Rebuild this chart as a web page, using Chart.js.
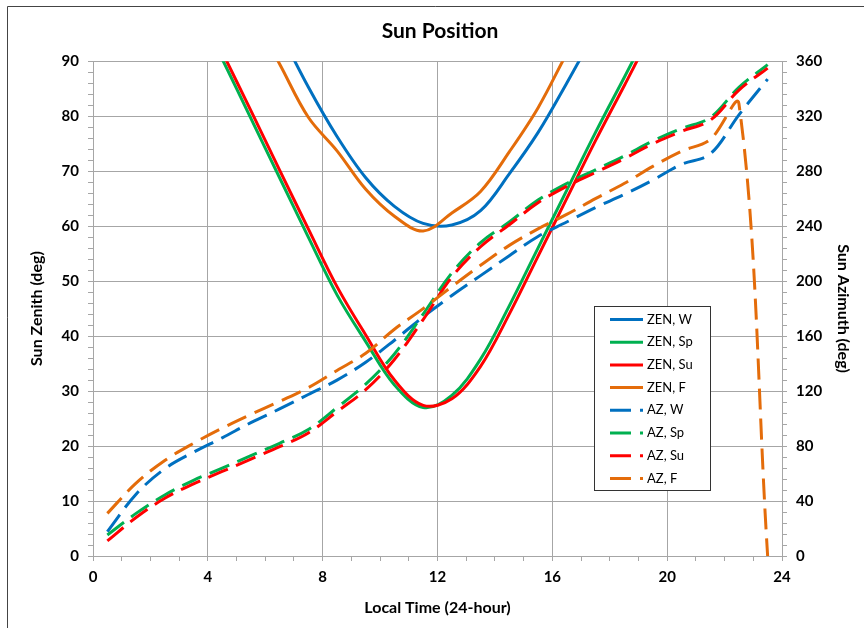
<!DOCTYPE html>
<html>
<head>
<meta charset="utf-8">
<script src="https://cdn.jsdelivr.net/npm/chart.js@4.4.1/dist/chart.umd.min.js"></script>
<style>
  html, body { margin: 0; padding: 0; background: #fff; }
</style>
</head>
<body>
<canvas id="sun-chart" width="864" height="628"></canvas>
<script>
// local time of each sample (hours)
const hours = [0.5, 1.5, 2.5, 3.5, 4.5, 5.5, 6.5, 7.5, 8.5, 9.5, 10.5, 11.5,
               12.5, 13.5, 14.5, 15.5, 16.5, 17.5, 18.5, 19.5, 20.5, 21.5, 22.5, 23.5];

// zenith angle (deg), values above 90 are below the horizon and get clipped
const zenW  = [140, 138, 133, 125, 116, 106, 95.5, 85.3, 76.3, 68.8, 63.6, 60.5,
               60.2, 62.8, 69.5, 77, 86, 95.5, 105.5, 115.5, 125, 132, 137, 140];
const zenSp = [129.5, 121, 111.5, 101, 90.4, 79.6, 68.8, 58, 47.5, 39, 31.1, 27,
               29.2, 35.8, 45.5, 56, 66.5, 77, 87, 97, 106, 114, 121, 126];
const zenSu = [131, 122.5, 113, 102.5, 91.7, 81, 70.2, 59.5, 49, 40.2, 32, 27.4,
               28.6, 34.5, 44, 54.5, 65, 75.5, 85.5, 95.5, 104.5, 112.5, 119.5, 125];
const zenF  = [128, 126, 122, 116, 108, 99, 89.5, 79.8, 73.7, 66.7, 61.8, 59.1,
               62.4, 66.3, 73.5, 81.5, 91.4, 101, 110, 118, 124, 128, 130, 130];

// azimuth (deg)
const azW  = [17.7, 45, 63.5, 75.5, 86, 97, 107, 117.5, 128, 141, 157, 174,
              189.5, 204, 218.5, 232.5, 243, 253.5, 263, 273.5, 285, 292.5, 321, 347];
const azSp = [15.3, 31, 44.4, 55, 64, 73, 82, 92, 108, 125, 147, 176,
              206, 228, 243, 259, 271, 281, 291, 302, 311, 319, 341, 357.5];
const azSu = [11, 28, 42, 52.5, 61.5, 70.5, 79.5, 89.5, 105, 121, 143, 172,
              203, 225, 241, 257, 269, 279, 289, 300, 309, 317, 339, 355];
const azF  = [31, 53, 69.5, 82, 93, 103, 112.5, 122.5, 135, 147.5, 165, 180,
              196, 211.5, 226, 238, 248.5, 260, 271, 283.5, 294.5, 303, 329, 0];

const BLUE = '#0070C0', GREEN = '#00B050', RED = '#FF0000', ORANGE = '#E46C0A';
const GRID = '#A6A6A6';
const FONT = 'Lato, "Open Sans", sans-serif';
const DASH = [21, 9];

function pts(vals) {
  return hours.map((h, i) => ({ x: h, y: vals[i] }));
}

const series = [
  { label: 'ZEN, W',  data: zenW,  color: BLUE,   az: false },
  { label: 'ZEN, Sp', data: zenSp, color: GREEN,  az: false },
  { label: 'ZEN, Su', data: zenSu, color: RED,    az: false },
  { label: 'ZEN, F',  data: zenF,  color: ORANGE, az: false },
  { label: 'AZ, W',   data: azW,   color: BLUE,   az: true },
  { label: 'AZ, Sp',  data: azSp,  color: GREEN,  az: true },
  { label: 'AZ, Su',  data: azSu,  color: RED,    az: true },
  { label: 'AZ, F',   data: azF,   color: ORANGE, az: true }
];

// outer frame, white background
const framePlugin = {
  id: 'frame',
  beforeDraw(chart) {
    const ctx = chart.ctx;
    ctx.save();
    ctx.fillStyle = '#fff';
    ctx.fillRect(0, 0, chart.width, chart.height);
    ctx.strokeStyle = '#444';
    ctx.lineWidth = 1;
    ctx.beginPath();
    ctx.moveTo(7.5, chart.height);
    ctx.lineTo(7.5, 6.5);
    ctx.lineTo(chart.width, 6.5);
    ctx.stroke();
    ctx.restore();
  }
};

// legend box inside the plot, like the excel one
const boxLegend = {
  id: 'boxLegend',
  afterDraw(chart) {
    const ctx = chart.ctx;
    ctx.save();
    ctx.fillStyle = '#fff';
    ctx.fillRect(594.5, 306.5, 116, 184);
    ctx.strokeStyle = '#333';
    ctx.lineWidth = 1;
    ctx.strokeRect(594.5, 306.5, 116, 184);
    chart.data.datasets.forEach((ds, i) => {
      const y = 319.5 + i * 22.7;
      ctx.beginPath();
      ctx.setLineDash(ds.borderDash || []);
      ctx.lineWidth = 3;
      ctx.strokeStyle = ds.borderColor;
      ctx.moveTo(610, y);
      ctx.lineTo(643, y);
      ctx.stroke();
      ctx.setLineDash([]);
      ctx.fillStyle = '#000';
      ctx.font = '13px ' + FONT;
      ctx.textBaseline = 'middle';
      ctx.fillText(ds.label, 647, y);
    });
    ctx.restore();
  }
};

const gridColor = (step) => (c) => (c.tick && Math.abs(c.tick.value % step) < 1e-6) ? GRID : 'rgba(0,0,0,0)';

new Chart(document.getElementById('sun-chart'), {
  type: 'line',
  data: {
    datasets: series.map((s, i) => ({
      label: s.label,
      data: pts(s.data),
      borderColor: s.color,
      backgroundColor: s.color,
      borderWidth: 3,
      borderDash: s.az ? DASH : [],
      pointRadius: 0,
      tension: 0.35,
      fill: false,
      clip: 0,
      yAxisID: s.az ? 'y2' : 'y',
      order: 7 - i
    }))
  },
  options: {
    responsive: false,
    animation: false,
    layout: { padding: { left: 27, right: 11, top: 0, bottom: 11 } },
    plugins: {
      legend: { display: false },
      tooltip: { enabled: false },
      title: {
        display: true,
        text: 'Sun Position',
        color: '#000',
        font: { family: FONT, size: 21, weight: 'bold' },
        padding: { top: 19, bottom: 17 }
      }
    },
    scales: {
      x: {
        type: 'linear',
        min: 0, max: 24,
        afterFit: (s) => { s.height = 61; },
        ticks: {
          stepSize: 1, autoSkip: false, maxRotation: 0, padding: 7,
          color: '#000',
          font: { family: FONT, size: 15, weight: 'bold' },
          callback: (v) => (v % 4 === 0 ? v : '')
        },
        grid: { color: gridColor(4), tickColor: GRID, tickLength: 5 },
        border: { color: GRID },
        title: {
          display: true, text: 'Local Time (24-hour)', color: '#000', padding: 0,
          font: { family: FONT, size: 16, weight: 'bold' }
        }
      },
      y: {
        position: 'left',
        min: 0, max: 90,
        afterFit: (s) => { s.width = 66; },
        ticks: {
          stepSize: 2, autoSkip: false, padding: 9,
          color: '#000',
          font: { family: FONT, size: 15, weight: 'bold' },
          callback: (v) => (v % 10 === 0 ? v : '')
        },
        grid: { color: gridColor(10), tickColor: GRID, tickLength: 5 },
        border: { color: GRID },
        title: {
          display: true, text: 'Sun Zenith (deg)', color: '#000', padding: 0,
          font: { family: FONT, size: 16, weight: 'bold' }
        }
      },
      y2: {
        position: 'right',
        min: 0, max: 360,
        afterFit: (s) => { s.width = 71; },
        ticks: {
          stepSize: 8, autoSkip: false, padding: 9,
          color: '#000',
          font: { family: FONT, size: 15, weight: 'bold' },
          callback: (v) => (v % 40 === 0 ? v : '')
        },
        grid: { drawOnChartArea: false, tickColor: GRID, tickLength: 5 },
        border: { color: GRID },
        title: {
          display: true, text: 'Sun Azimuth (deg)', color: '#000', padding: 0,
          font: { family: FONT, size: 16, weight: 'bold' }
        }
      }
    }
  },
  plugins: [framePlugin, boxLegend]
});
</script>
</body>
</html>
